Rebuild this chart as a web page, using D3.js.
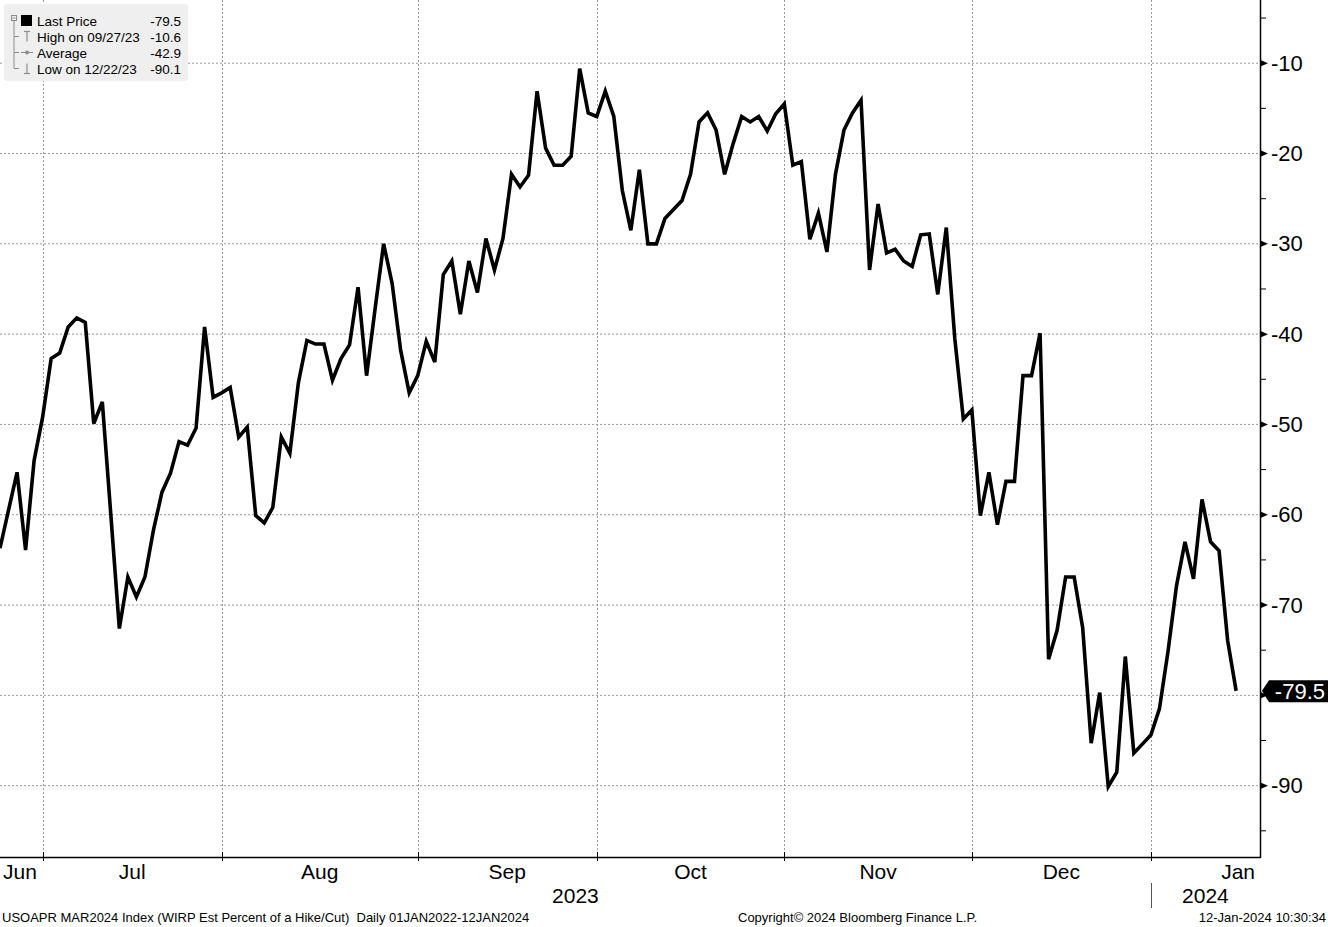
<!DOCTYPE html>
<html>
<head>
<meta charset="utf-8">
<script src="https://cdn.jsdelivr.net/npm/d3@7"></script>
<style>
  html, body { margin: 0; padding: 0; background: #fff; }
  svg { display: block; }
  text { font-family: "Liberation Sans", Arial, sans-serif; white-space: pre; }
</style>
</head>
<body>
<svg id="chart" width="1328" height="927"></svg>
<script>
// ---------------- DATA ----------------
const seriesName = "Last Price";
const firstDate = "2023-06-23";      // first business day shown
const lastDate  = "2024-01-12";
// WIRP est. percent of a hike/cut, Mar-2024 meeting (daily, business days)
const values = [
  -63.7, -59.5, -55.3, -63.9, -54.0, -49.2, -42.7, -42.1, -39.2, -38.2,
  -38.7, -49.9, -47.5, -60.0, -72.6, -66.9, -69.1, -66.9, -61.7, -57.5,
  -55.4, -51.9, -52.3, -50.4, -39.2, -47.0, -46.5, -45.9, -51.4, -50.3,
  -60.1, -60.9, -59.2, -51.4, -53.2, -45.4, -40.7, -41.1, -41.1, -45.1,
  -42.7, -41.2, -34.8, -44.6, -37.2, -30.0, -34.4, -41.8, -46.5, -44.6,
  -40.8, -43.1, -33.4, -31.9, -37.8, -31.9, -35.4, -29.4, -32.9, -29.4,
  -22.3, -23.7, -22.4, -13.1, -19.4, -21.3, -21.3, -20.3, -10.6, -15.5,
  -15.9, -13.1, -15.9, -24.1, -28.5, -21.8, -30.0, -30.0, -27.2, -26.2,
  -25.2, -22.3, -16.5, -15.5, -17.4, -22.3, -18.9, -15.9, -16.5, -15.9,
  -17.5, -15.6, -14.5, -21.3, -20.9, -29.5, -26.6, -30.9, -22.3, -17.4,
  -15.5, -14.1, -32.9, -25.6, -31.0, -30.6, -31.9, -32.5, -29.0, -28.9,
  -35.6, -28.2, -40.5, -49.4, -48.4, -60.1, -55.3, -61.1, -56.3, -56.3,
  -44.6, -44.6, -39.9, -76.0, -72.8, -66.9, -66.9, -72.5, -85.3, -79.7,
  -90.1, -88.5, -75.7, -86.4, -85.4, -84.4, -81.5, -75.2, -67.9, -63.0,
  -67.1, -58.3, -63.0, -64.0, -73.9, -79.5
];
const monthLabels = ["Jun", "Jul", "Aug", "Sep", "Oct", "Nov", "Dec", "Jan"];
const yearLabels  = ["2023", "2024"];
const yMajorTicks = [-10, -20, -30, -40, -50, -60, -70, -80, -90];
const yMinorTicks = [-5, -15, -25, -35, -45, -55, -65, -75, -85, -95];
const yDomain = [-97.9, -3.0];
const legendRows = [
  { label: "Last Price",       value: "-79.5", icon: "square" },
  { label: "High on 09/27/23", value: "-10.6", icon: "high" },
  { label: "Average",          value: "-42.9", icon: "avg" },
  { label: "Low on 12/22/23",  value: "-90.1", icon: "low" }
];
const lastLabel = "-79.5";
const footerLeft  = "USOAPR MAR2024 Index (WIRP Est Percent of a Hike/Cut)  Daily 01JAN2022-12JAN2024";
const footerMid   = "Copyright\u00A9 2024 Bloomberg Finance L.P.";
const footerRight = "12-Jan-2024 10:30:34";

// ---------------- LAYOUT ----------------
const W = 1328, H = 927;
const plot = { left: 0, top: 0, right: 1260, bottom: 857 };
const rightPadPoints = 2.8;
const gridColor = "#9a9a9a";

const svg = d3.select("#chart");
const parse = d3.timeParse("%Y-%m-%d");
const isWeekday = d => d.getDay() !== 0 && d.getDay() !== 6;
const dates = d3.timeDay.range(parse(firstDate), d3.timeDay.offset(parse(lastDate), 1)).filter(isWeekday);
const data = values.map((v, i) => ({ i, v, d: dates[i] }));

const x = d3.scaleLinear()
  .domain([0, values.length - 1 + rightPadPoints])
  .range([plot.left, plot.right]);
const y = d3.scaleLinear().domain(yDomain).range([plot.bottom, plot.top]);

// month boundaries: last business day of each month
const boundaries = [];
for (let i = 0; i < dates.length - 1; i++) {
  if (dates[i].getMonth() !== dates[i + 1].getMonth()) boundaries.push(i);
}

// gridlines
const grid = svg.append("g");
grid.selectAll("line.h").data(yMajorTicks).join("line")
  .attr("x1", plot.left).attr("x2", plot.right)
  .attr("y1", d => y(d)).attr("y2", d => y(d))
  .attr("stroke", gridColor).attr("stroke-width", 1).attr("stroke-dasharray", "2,2");
grid.selectAll("line.v").data(boundaries).join("line")
  .attr("x1", d => Math.round(x(d)) + 0.5).attr("x2", d => Math.round(x(d)) + 0.5)
  .attr("y1", plot.top).attr("y2", plot.bottom)
  .attr("stroke", gridColor).attr("stroke-width", 1).attr("stroke-dasharray", "2,2");

// line
const line = d3.line().x(d => x(d.i)).y(d => y(d.v));
svg.append("path").datum(data)
  .attr("d", line)
  .attr("fill", "none").attr("stroke", "#000").attr("stroke-width", 3.6)
  .attr("stroke-linejoin", "miter").attr("stroke-miterlimit", 4);

// axes frame
svg.append("line").attr("x1", plot.left).attr("x2", plot.right + 0.5)
  .attr("y1", plot.bottom + 0.5).attr("y2", plot.bottom + 0.5)
  .attr("stroke", "#000").attr("stroke-width", 1.5);
svg.append("line").attr("x1", plot.right + 0.5).attr("x2", plot.right + 0.5)
  .attr("y1", plot.top).attr("y2", plot.bottom + 1)
  .attr("stroke", "#000").attr("stroke-width", 1.5);

// right axis ticks + labels
const yAx = svg.append("g");
yAx.selectAll("path.maj").data(yMajorTicks).join("path")
  .attr("d", d => `M${plot.right + 1},${y(d) - 3} L${plot.right + 8},${y(d)} L${plot.right + 1},${y(d) + 3} Z`)
  .attr("fill", "#000");
yAx.selectAll("line.min").data(yMinorTicks).join("line")
  .attr("x1", plot.right + 1).attr("x2", plot.right + 6)
  .attr("y1", d => y(d)).attr("y2", d => y(d))
  .attr("stroke", "#000").attr("stroke-width", 1);
yAx.selectAll("text").data(yMajorTicks.filter(d => d !== -80)).join("text")
  .attr("x", plot.right + 11).attr("y", d => y(d) + 7.5)
  .attr("font-size", 22).attr("fill", "#000")
  .text(d => "-" + Math.abs(d));

// last price tag
const ly = y(values[values.length - 1]);
svg.append("path")
  .attr("d", `M${plot.right + 2},${ly} L${plot.right + 9},${ly - 10.5} L${W},${ly - 10.5} L${W},${ly + 11.5} L${plot.right + 9},${ly + 11.5} Z`)
  .attr("fill", "#000");
svg.append("text").attr("x", W - 3).attr("y", ly + 8.5)
  .attr("text-anchor", "end").attr("font-size", 22).attr("fill", "#fff")
  .text(lastLabel);

// bottom ticks at month boundaries
svg.selectAll("line.bt").data(boundaries).join("line")
  .attr("x1", d => Math.round(x(d)) + 0.5).attr("x2", d => Math.round(x(d)) + 0.5)
  .attr("y1", plot.bottom - 5).attr("y2", plot.bottom + 4)
  .attr("stroke", "#000").attr("stroke-width", 1);

// month labels (centred on each month's full business-day span, clamped to the plot)
const monthStarts = [d3.timeMonth.floor(dates[0])];
boundaries.forEach(b => monthStarts.push(d3.timeMonth.floor(dates[b + 1])));
const mLabels = svg.append("g");
monthLabels.forEach((lab, m) => {
  const ms = monthStarts[m];
  const nWeekdays = d3.timeDay.range(ms, d3.timeMonth.offset(ms, 1)).filter(isWeekday).length;
  const startIdx = m === 0 ? boundaries[0] - nWeekdays : boundaries[m - 1];
  const endIdx = startIdx + nWeekdays;
  const t = mLabels.append("text").attr("font-size", 21).attr("fill", "#000")
    .attr("text-anchor", "middle").attr("y", 879).text(lab);
  const w = t.node().getComputedTextLength();
  let cx = (x(startIdx) + x(endIdx)) / 2;
  cx = Math.max(plot.left + w / 2 + 3, Math.min(plot.right - w / 2 - 5, cx));
  t.attr("x", cx);
});

// year labels
const yearBoundary = boundaries[boundaries.length - 1];
const yearSpans = [[plot.left, x(yearBoundary)], [x(yearBoundary), plot.right]];
svg.selectAll("text.yr").data(yearLabels).join("text")
  .attr("x", (d, i) => (yearSpans[i][0] + yearSpans[i][1]) / 2)
  .attr("y", 903).attr("text-anchor", "middle").attr("font-size", 21).attr("fill", "#000")
  .text(d => d);
svg.append("line")
  .attr("x1", Math.round(x(yearBoundary)) + 0.5).attr("x2", Math.round(x(yearBoundary)) + 0.5)
  .attr("y1", 883).attr("y2", 908).attr("stroke", "#555").attr("stroke-width", 1);

// footer
svg.append("text").attr("x", 2).attr("y", 922).attr("font-size", 13).attr("fill", "#000").text(footerLeft);
svg.append("text").attr("x", 738).attr("y", 922).attr("font-size", 13).attr("fill", "#000").text(footerMid);
svg.append("text").attr("x", 1326).attr("y", 922).attr("text-anchor", "end").attr("font-size", 13).attr("fill", "#000").text(footerRight);

// legend
const lg = svg.append("g");
lg.append("rect").attr("x", 4).attr("y", 4).attr("width", 184).attr("height", 77)
  .attr("rx", 3).attr("fill", "#efefef");
const rowY = [20.5, 36.5, 52.5, 68.5];
const treeCol = "#8c8c8c";
// expander box
lg.append("rect").attr("x", 11.5).attr("y", 15.5).attr("width", 5).attr("height", 5)
  .attr("fill", "none").attr("stroke", treeCol);
lg.append("line").attr("x1", 12.5).attr("x2", 15.5).attr("y1", 18).attr("y2", 18).attr("stroke", treeCol);
lg.append("line").attr("x1", 14).attr("x2", 14).attr("y1", 21).attr("y2", rowY[3]).attr("stroke", treeCol);
rowY.slice(1).forEach(yy => {
  lg.append("line").attr("x1", 14).attr("x2", 19).attr("y1", yy).attr("y2", yy).attr("stroke", treeCol);
});
legendRows.forEach((r, i) => {
  const yy = rowY[i];
  if (r.icon === "square") {
    lg.append("rect").attr("x", 21).attr("y", yy - 5.5).attr("width", 11).attr("height", 11).attr("fill", "#000");
  } else if (r.icon === "high") {
    lg.append("line").attr("x1", 24).attr("x2", 30).attr("y1", yy - 5).attr("y2", yy - 5).attr("stroke", treeCol).attr("stroke-width", 1.2);
    lg.append("line").attr("x1", 27).attr("x2", 27).attr("y1", yy - 5).attr("y2", yy + 5).attr("stroke", treeCol).attr("stroke-width", 1.2);
  } else if (r.icon === "avg") {
    lg.append("line").attr("x1", 21).attr("x2", 33).attr("y1", yy).attr("y2", yy).attr("stroke", treeCol).attr("stroke-width", 1);
    lg.append("circle").attr("cx", 27).attr("cy", yy).attr("r", 2).attr("fill", treeCol);
  } else {
    lg.append("line").attr("x1", 24).attr("x2", 30).attr("y1", yy + 5).attr("y2", yy + 5).attr("stroke", treeCol).attr("stroke-width", 1.2);
    lg.append("line").attr("x1", 27).attr("x2", 27).attr("y1", yy - 5).attr("y2", yy + 5).attr("stroke", treeCol).attr("stroke-width", 1.2);
  }
  lg.append("text").attr("x", 37).attr("y", yy + 5).attr("font-size", 13.5).attr("fill", "#000").text(r.label);
  lg.append("text").attr("x", 181).attr("y", yy + 5).attr("text-anchor", "end").attr("font-size", 13.5).attr("fill", "#000").text(r.value);
});
</script>
</body>
</html>
